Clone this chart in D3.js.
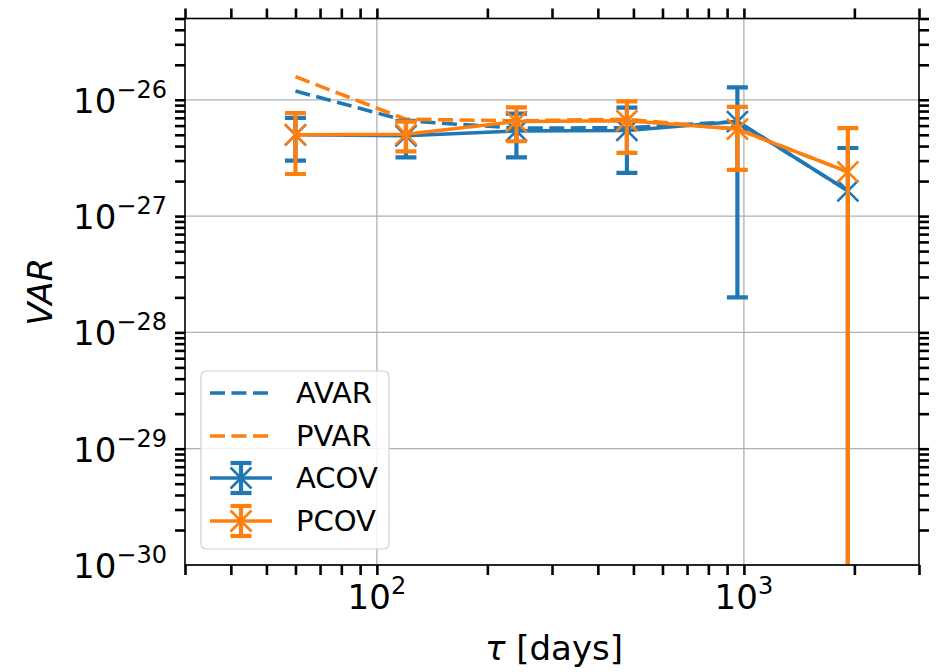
<!DOCTYPE html>
<html>
<head>
<meta charset="utf-8">
<script src="https://cdn.jsdelivr.net/npm/d3@7"></script>
<style>
  html, body { margin: 0; padding: 0; background: #fff; }
  svg { display: block; font-family: "DejaVu Sans", sans-serif; }
</style>
</head>
<body>
<svg id="chart" width="938" height="672"></svg>
<script>
// Averaging time (days)
const tau = [60, 120, 240, 480, 960, 1920];
// Variances (dashed curves)
const avar = [1.19e-26, 6.6e-27, 5.7e-27, 5.75e-27, 6.5e-27, 1.65e-27];
const pvar = [1.58e-26, 6.8e-27, 6.6e-27, 6.8e-27, 5.6e-27, 2.4e-27];
// Covariance estimates with symmetric errors
const acov = [5.0e-27, 4.9e-27, 5.4e-27, 5.45e-27, 6.5e-27, 1.65e-27];
const acovErr = [2.0e-27, 1.7e-27, 2.2e-27, 3.1e-27, 6.3e-27, 2.2e-27];
const pcov = [5.0e-27, 5.05e-27, 6.5e-27, 6.6e-27, 5.6e-27, 2.4e-27];
const pcovErr = [2.7e-27, 1.45e-27, 2.1e-27, 3.1e-27, 3.1e-27, 3.3e-27];
// Axis limits and labelled decades
const xLimits = [30, 3000];
const yLimits = [1e-30, 5e-26];
const xDecades = [2, 3];
const yDecades = [-30, -29, -28, -27, -26];
const legendLabels = ["AVAR", "PVAR", "ACOV", "PCOV"];

const BLUE = "#1f77b4", ORANGE = "#ff7f0e";
const L = 185, R = 919, T = 18.5, B = 565;
const DASH = "15,6.5";

const svg = d3.select("#chart");
const x = d3.scaleLog().domain(xLimits).range([L, R]);
const y = d3.scaleLog().domain(yLimits).range([B, T]);

svg.append("defs").append("clipPath").attr("id", "plotclip")
  .append("rect").attr("x", L).attr("y", T).attr("width", R - L).attr("height", B - T);

// grid at the decades
const grid = svg.append("g").attr("stroke", "#b0b0b0").attr("stroke-width", 1.3);
xDecades.forEach(e => grid.append("line")
  .attr("x1", x(10 ** e)).attr("x2", x(10 ** e)).attr("y1", T).attr("y2", B));
yDecades.forEach(e => grid.append("line")
  .attr("y1", y(Math.pow(10, e))).attr("y2", y(Math.pow(10, e))).attr("x1", L).attr("x2", R));

// ticks on all four sides, pointing outward
function styleAxis(g) {
  g.select(".domain").remove();
  g.selectAll(".tick line").attr("stroke", "#000").attr("stroke-width", 2.6);
  g.selectAll(".tick text").remove();
}
const xt = x.ticks(), yt = y.ticks();
svg.append("g").attr("transform", `translate(0,${B})`)
  .call(d3.axisBottom(x).tickValues(xt).tickSize(10).tickSizeOuter(0)).call(styleAxis);
svg.append("g").attr("transform", `translate(0,${T})`)
  .call(d3.axisTop(x).tickValues(xt).tickSize(10).tickSizeOuter(0)).call(styleAxis);
svg.append("g").attr("transform", `translate(${L},0)`)
  .call(d3.axisLeft(y).tickValues(yt).tickSize(10).tickSizeOuter(0)).call(styleAxis);
svg.append("g").attr("transform", `translate(${R},0)`)
  .call(d3.axisRight(y).tickValues(yt).tickSize(10).tickSizeOuter(0)).call(styleAxis);

// data layers
const plot = svg.append("g").attr("clip-path", "url(#plotclip)");
const line = d3.line().x(d => x(d[0])).y(d => y(d[1]));

function dashed(vals, color) {
  plot.append("path").datum(tau.map((t, i) => [t, vals[i]]))
    .attr("d", line).attr("fill", "none").attr("stroke", color)
    .attr("stroke-width", 3.6).attr("stroke-dasharray", DASH);
}
function errorSeries(vals, errs, color) {
  const g = plot.append("g");
  g.append("path").datum(tau.map((t, i) => [t, vals[i]]))
    .attr("d", line).attr("fill", "none").attr("stroke", color).attr("stroke-width", 3.6);
  tau.forEach((t, i) => {
    const hi = vals[i] + errs[i], lo = vals[i] - errs[i];
    const cx = x(t);
    const yLo = lo > 0 ? y(lo) : B + 10;
    g.append("line").attr("x1", cx).attr("x2", cx).attr("y1", y(hi)).attr("y2", yLo)
      .attr("stroke", color).attr("stroke-width", 4.2);
    g.append("line").attr("x1", cx - 10.5).attr("x2", cx + 10.5).attr("y1", y(hi)).attr("y2", y(hi))
      .attr("stroke", color).attr("stroke-width", 4.2);
    if (lo > 0) g.append("line").attr("x1", cx - 10.5).attr("x2", cx + 10.5).attr("y1", yLo).attr("y2", yLo)
      .attr("stroke", color).attr("stroke-width", 4.2);
    const cy = y(vals[i]), s = 10.5;
    g.append("path").attr("d", `M${cx - s},${cy - s}L${cx + s},${cy + s}M${cx - s},${cy + s}L${cx + s},${cy - s}`)
      .attr("stroke", color).attr("stroke-width", 2.6).attr("fill", "none");
  });
}
dashed(avar, BLUE);
dashed(pvar, ORANGE);
errorSeries(acov, acovErr, BLUE);
errorSeries(pcov, pcovErr, ORANGE);

// spines
svg.append("rect").attr("x", L).attr("y", T).attr("width", R - L).attr("height", B - T)
  .attr("fill", "none").attr("stroke", "#000").attr("stroke-width", 1.6);

// decade tick labels
const labels = svg.append("g").attr("fill", "#000");
xDecades.forEach(e => {
  const t = labels.append("text").attr("x", x(10 ** e)).attr("y", 609)
    .attr("text-anchor", "middle").attr("font-size", 34);
  t.append("tspan").text("10");
  t.append("tspan").attr("font-size", 24).attr("dy", -15).text(String(e));
});
yDecades.forEach(e => {
  const yy = y(Math.pow(10, e));
  const t = labels.append("text").attr("x", 167).attr("y", yy + 13)
    .attr("text-anchor", "end").attr("font-size", 34);
  t.append("tspan").text("10");
  t.append("tspan").attr("font-size", 24).attr("dy", -15).text("\u2212" + String(-e));
});

// axis titles
const xl = svg.append("text").attr("x", (L + R) / 2 + 2).attr("y", 660)
  .attr("text-anchor", "middle").attr("font-size", 34);
xl.append("tspan").attr("font-style", "italic").text("\u03c4");
xl.append("tspan").text(" [days]");
svg.append("text").attr("transform", `translate(52,${(T + B) / 2}) rotate(-90)`)
  .attr("text-anchor", "middle").attr("font-size", 34).attr("font-style", "italic").text("VAR");

// legend
const lg = svg.append("g");
lg.append("rect").attr("x", 201).attr("y", 371).attr("width", 188).attr("height", 178)
  .attr("rx", 5).attr("fill", "#fff").attr("fill-opacity", 0.85)
  .attr("stroke", "#d0d0d0").attr("stroke-width", 1.2);
const rowY = [393, 436, 478, 521];
const colors = [BLUE, ORANGE, BLUE, ORANGE];
legendLabels.forEach((lab, i) => {
  const yy = rowY[i], c = colors[i];
  if (i < 2) {
    lg.append("line").attr("x1", 210).attr("x2", 272).attr("y1", yy).attr("y2", yy)
      .attr("stroke", c).attr("stroke-width", 3.6).attr("stroke-dasharray", DASH);
  } else {
    lg.append("line").attr("x1", 210).attr("x2", 272).attr("y1", yy).attr("y2", yy)
      .attr("stroke", c).attr("stroke-width", 3.6);
    const cx = 241;
    lg.append("line").attr("x1", cx).attr("x2", cx).attr("y1", yy - 15).attr("y2", yy + 15)
      .attr("stroke", c).attr("stroke-width", 4.2);
    [yy - 15, yy + 15].forEach(v => lg.append("line").attr("x1", cx - 10.5).attr("x2", cx + 10.5)
      .attr("y1", v).attr("y2", v).attr("stroke", c).attr("stroke-width", 4.2));
    const s = 10.5;
    lg.append("path").attr("d", `M${cx - s},${yy - s}L${cx + s},${yy + s}M${cx - s},${yy + s}L${cx + s},${yy - s}`)
      .attr("stroke", c).attr("stroke-width", 2.6);
  }
  lg.append("text").attr("x", 296).attr("y", yy + 10).attr("font-size", 29).text(lab);
});
</script>
</body>
</html>
